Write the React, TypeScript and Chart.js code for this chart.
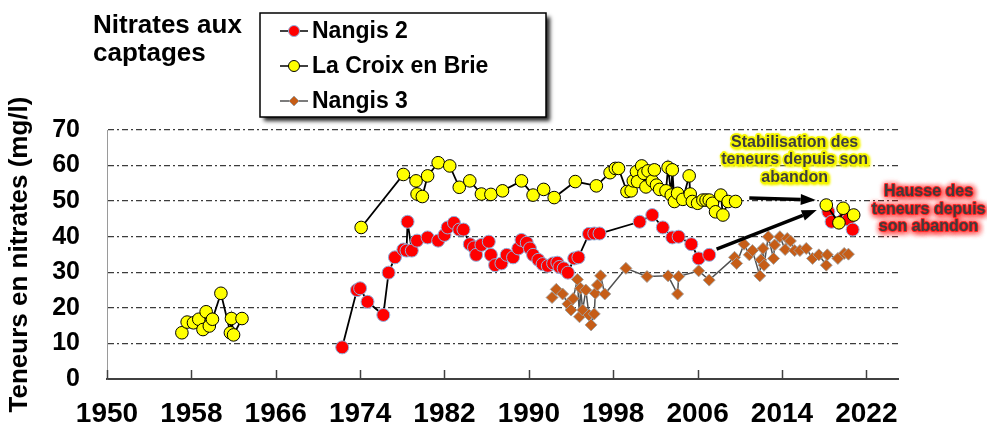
import React, { useEffect, useRef } from "react";
import { Chart, registerables } from "chart.js";

Chart.register(...registerables);

// ---------- DATA ----------
const xTickYears = [1950, 1958, 1966, 1974, 1982, 1990, 1998, 2006, 2014, 2022];
const xMin = 1950;
const xMax = 2025;
const yMin = 0;
const yMax = 70;
const yStep = 10;

const nangis2Years = [
  1972.3, 1973.7, 1974.0, 1974.7, 1976.2, 1976.7, 1977.3, 1978.1, 1978.4, 1978.5, 1978.9,
  1979.4, 1980.4, 1981.4, 1982.0, 1982.3, 1982.9, 1983.4, 1983.8, 1984.4, 1984.8, 1985.0,
  1985.5, 1986.2, 1986.4, 1986.8, 1987.4, 1987.9, 1988.5, 1989.0, 1989.3, 1989.8, 1990.1,
  1990.4, 1990.9, 1991.3, 1991.8, 1992.3, 1992.7, 1992.9, 1993.3, 1993.7, 1994.3, 1994.7,
  1995.7, 1996.2, 1996.7, 2000.5, 2001.7, 2002.7, 2003.6, 2004.2, 2005.4, 2006.1, 2007.1,
  2012.0,
  2018.4, 2018.7, 2019.9, 2020.3, 2020.7,
];
const nangis2Values = [
  8.9, 25.0, 25.5, 21.7, 18.0, 29.9, 34.2, 36.4, 36.1, 44.2, 36.1,
  38.9, 39.8, 38.9, 40.5, 42.6, 43.9, 42.0, 42.0, 37.9, 37.0, 34.9,
  37.7, 38.6, 34.9, 32.0, 32.5, 34.9, 34.2, 36.7, 39.1, 38.3, 36.7,
  34.9, 33.5, 32.3, 31.8, 32.5, 32.7, 31.5, 31.1, 29.9, 33.9, 34.2,
  40.8, 40.9, 40.9, 44.2, 46.1, 42.6, 39.8, 40.0, 37.9, 33.9, 34.9,
  null,
  47.0, 44.2, 45.1, 44.9, 42.0,
];

const croixYears = [
  1957.1, 1957.6, 1958.2, 1958.7, 1959.1, 1959.4, 1959.7, 1960.0, 1960.8, 1961.7, 1961.8,
  1962.0, 1962.8,
  1968.0,
  1974.1, 1978.1, 1979.3, 1979.4, 1979.9, 1980.4, 1981.4, 1982.5, 1983.4, 1984.4, 1985.5,
  1986.4, 1987.5, 1989.3, 1990.4, 1991.4, 1992.4, 1994.4, 1996.4, 1997.7, 1998.2, 1998.5,
  1999.3, 1999.7, 1999.9, 2000.2, 2000.3, 2000.7, 2000.9, 2001.1, 2001.3, 2001.7, 2001.9,
  2002.1, 2002.4, 2003.0, 2003.2, 2003.5, 2003.6, 2003.8, 2004.1, 2004.6, 2005.2, 2005.3,
  2005.5, 2006.0, 2006.5, 2006.8, 2007.1, 2007.4, 2007.7, 2008.2, 2008.4, 2008.9, 2009.6,
  2014.0,
  2018.2, 2019.4, 2019.8, 2020.8,
];
const croixValues = [
  13.0, 16.0, 15.8, 16.8, 13.9, 18.9, 14.9, 16.8, 24.1, 13.0, 17.0,
  12.4, 17.0,
  null,
  42.6, 57.5, 55.7, 52.0, 51.3, 57.1, 60.8, 59.9, 53.9, 55.7, 52.0,
  51.9, 52.9, 55.7, 51.7, 53.3, 51.0, 55.5, 54.3, 58.0, 59.2, 59.2,
  52.7, 52.9, 55.7, 58.3, 55.5, 59.9, 57.8, 54.0, 58.5, 55.7, 58.8,
  54.5, 53.3, 52.9, 59.5, 51.7, 58.8, 49.9, 52.2, 50.5, 57.1, 52.0,
  49.9, 49.4, 50.3, 50.3, 50.3, 49.4, 47.0, 51.7, 46.1, 49.9, 49.9,
  null,
  48.9, 43.9, 48.0, 46.1,
];

const nangis3Years = [
  1992.2, 1992.6, 1993.2, 1993.7, 1994.0, 1994.2, 1994.6, 1994.8, 1994.9, 1995.1, 1995.4,
  1995.7, 1995.9, 1996.2, 1996.3, 1996.5, 1996.8, 1997.2, 1999.2, 2001.2, 2003.2, 2004.1,
  2004.2, 2006.1, 2007.1, 2009.5, 2009.7, 2010.4, 2010.9, 2011.2, 2011.9, 2012.0, 2012.2,
  2012.3, 2012.7, 2013.2, 2013.3, 2013.8, 2014.3, 2014.5, 2014.8, 2015.2, 2015.7, 2016.3,
  2016.9, 2017.5, 2018.2, 2018.3, 2019.3, 2019.9, 2020.3,
];
const nangis3Values = [
  22.9, 25.2, 23.9, 21.1, 19.4, 22.6, 28.0, 17.5, 25.5, 19.4, 25.0,
  18.0, 15.2, 18.3, 24.1, 26.4, 29.0, 23.9, 31.1, 28.8, 29.0, 23.9,
  28.8, 30.4, 27.8, 34.2, 32.5, 37.9, 34.9, 36.1, 29.0, 33.5, 36.7,
  32.0, 40.0, 33.9, 37.7, 40.0, 36.4, 39.5, 38.8, 36.1, 36.1, 36.7,
  33.9, 34.9, 32.0, 34.9, 33.9, 35.3, 35.1,
];

const seriesNames = ["Nangis 2", "La Croix en Brie", "Nangis 3"];
const chartTitleLines = ["Nitrates aux", "captages"];
const yAxisTitle = "Teneurs en nitrates (mg/l)";
const stabLines = ["Stabilisation des", "teneurs depuis son", "abandon"];
const hausseLines = ["Hausse des", "teneurs depuis", "son abandon"];
// annotation anchors in data units (year, mg/l)
const stabAnchor = [2015.2, 66.6];
const hausseAnchor = [2027.9, 52.6];
const arrowStab = [2010.9, 50.9, 2017.2, 50.3];
const arrowHausse = [2007.8, 36.5, 2017.3, 47.5];

const toPoints = (xs: number[], ys: (number | null)[]) => xs.map((x, i) => ({ x, y: ys[i] }));

const FONT = '"Liberation Sans", Arial, Helvetica, sans-serif';

function drawArrow(ctx: CanvasRenderingContext2D, x1: number, y1: number, x2: number, y2: number) {
  const ang = Math.atan2(y2 - y1, x2 - x1);
  const head = 15;
  const hw = 5.5;
  const bx = x2 - head * Math.cos(ang);
  const by = y2 - head * Math.sin(ang);
  ctx.save();
  ctx.strokeStyle = "#000";
  ctx.fillStyle = "#000";
  ctx.lineWidth = 3.5;
  ctx.beginPath();
  ctx.moveTo(x1, y1);
  ctx.lineTo(bx, by);
  ctx.stroke();
  ctx.beginPath();
  ctx.moveTo(x2, y2);
  ctx.lineTo(bx + hw * Math.sin(ang), by - hw * Math.cos(ang));
  ctx.lineTo(bx - hw * Math.sin(ang), by + hw * Math.cos(ang));
  ctx.closePath();
  ctx.fill();
  ctx.restore();
}

function glowText(
  ctx: CanvasRenderingContext2D, lines: string[], cx: number, cy: number, lh: number,
  glow: string, blur: number, strokeW: number, passes: number
) {
  ctx.save();
  ctx.font = `bold 16px ${FONT}`;
  ctx.textAlign = "center";
  ctx.textBaseline = "middle";
  lines.forEach((l, i) => {
    const yy = cy + i * lh;
    ctx.save();
    ctx.shadowColor = glow;
    ctx.shadowBlur = blur;
    ctx.shadowOffsetX = 1;
    ctx.shadowOffsetY = 1;
    ctx.strokeStyle = glow;
    ctx.fillStyle = glow;
    ctx.lineWidth = strokeW;
    ctx.lineJoin = "round";
    for (let p = 0; p < passes; p++) {
      if (strokeW > 0) ctx.strokeText(l, cx, yy);
      ctx.fillText(l, cx, yy);
    }
    ctx.restore();
    ctx.fillStyle = "#3d3d3d";
    ctx.fillText(l, cx, yy);
  });
  ctx.restore();
}

const decorPlugin = {
  id: "decor",
  afterDraw(chart: any) {
    const { ctx, chartArea } = chart;
    const xs = chart.scales.x;
    const ys = chart.scales.y;

    // inward tick marks on the x axis
    ctx.save();
    ctx.strokeStyle = "#404040";
    ctx.lineWidth = 1.5;
    xs.ticks.forEach((t: any) => {
      const px = Math.round(xs.getPixelForValue(t.value)) + 0.5;
      ctx.beginPath();
      ctx.moveTo(px, chartArea.bottom);
      ctx.lineTo(px, chartArea.bottom - 9);
      ctx.stroke();
    });
    ctx.restore();

    // title
    ctx.save();
    ctx.font = `bold 26px ${FONT}`;
    ctx.fillStyle = "#000";
    ctx.textAlign = "left";
    ctx.textBaseline = "alphabetic";
    ctx.fillText(chartTitleLines[0], 93, 33);
    ctx.fillText(chartTitleLines[1], 93, 61);
    ctx.restore();

    // legend box
    const lx = 260, ly = 13, lw = 286, lh = 104;
    ctx.save();
    ctx.shadowColor = "rgba(0,0,0,0.85)";
    ctx.shadowBlur = 4;
    ctx.shadowOffsetX = 4;
    ctx.shadowOffsetY = 4;
    ctx.fillStyle = "#fff";
    ctx.fillRect(lx, ly, lw, lh);
    ctx.restore();
    ctx.save();
    ctx.strokeStyle = "#000";
    ctx.lineWidth = 1.5;
    ctx.strokeRect(lx, ly, lw, lh);
    const rows = [31, 66, 101];
    chart.data.datasets.forEach((ds: any) => {
      const idx = seriesNames.indexOf(ds.label);
      const yy = rows[idx];
      ctx.strokeStyle = ds.borderColor;
      ctx.lineWidth = 1.5;
      ctx.beginPath();
      ctx.moveTo(280, yy);
      ctx.lineTo(308, yy);
      ctx.stroke();
      ctx.fillStyle = ds.pointBackgroundColor;
      ctx.strokeStyle = ds.pointBorderColor;
      ctx.lineWidth = 1;
      ctx.beginPath();
      if (ds.pointStyle === "rectRot") {
        const r = 5;
        ctx.moveTo(294, yy - r);
        ctx.lineTo(294 + r, yy);
        ctx.lineTo(294, yy + r);
        ctx.lineTo(294 - r, yy);
        ctx.closePath();
      } else {
        ctx.arc(294, yy, 5.5, 0, Math.PI * 2);
      }
      ctx.fill();
      ctx.stroke();
      ctx.fillStyle = "#000";
      ctx.font = `bold 23px ${FONT}`;
      ctx.textAlign = "left";
      ctx.textBaseline = "middle";
      ctx.fillText(ds.label, 312, yy + 1);
    });
    ctx.restore();

    // arrows
    drawArrow(ctx, xs.getPixelForValue(arrowStab[0]), ys.getPixelForValue(arrowStab[1]),
      xs.getPixelForValue(arrowStab[2]), ys.getPixelForValue(arrowStab[3]));
    drawArrow(ctx, xs.getPixelForValue(arrowHausse[0]), ys.getPixelForValue(arrowHausse[1]),
      xs.getPixelForValue(arrowHausse[2]), ys.getPixelForValue(arrowHausse[3]));

    // annotations
    glowText(ctx, stabLines, xs.getPixelForValue(stabAnchor[0]), ys.getPixelForValue(stabAnchor[1]), 17.5, "#f5f500", 3, 3, 2);
    glowText(ctx, hausseLines, xs.getPixelForValue(hausseAnchor[0]), ys.getPixelForValue(hausseAnchor[1]), 17.5, "rgba(255,30,30,0.85)", 6, 1.5, 2);
  },
};

export default function App() {
  const ref = useRef<HTMLCanvasElement | null>(null);

  useEffect(() => {
    document.body.style.margin = "0";
    const canvas = ref.current;
    if (!canvas) return;
    Chart.defaults.font.family = FONT;
    const chart = new Chart(canvas, {
      type: "line",
      data: {
        datasets: [
          {
            label: seriesNames[1],
            data: toPoints(croixYears, croixValues),
            borderColor: "#000",
            borderWidth: 1.8,
            pointStyle: "circle",
            pointRadius: 6.3,
            pointBackgroundColor: "#ffff00",
            pointBorderColor: "#000",
            pointBorderWidth: 1,
            spanGaps: false,
            order: 0,
          },
          {
            label: seriesNames[0],
            data: toPoints(nangis2Years, nangis2Values),
            borderColor: "#000",
            borderWidth: 1.8,
            pointStyle: "circle",
            pointRadius: 6.5,
            pointBackgroundColor: "#ff0000",
            pointBorderColor: "#8fb2de",
            pointBorderWidth: 1,
            spanGaps: false,
            order: 1,
          },
          {
            label: seriesNames[2],
            data: toPoints(nangis3Years, nangis3Values),
            borderColor: "#505050",
            borderWidth: 1.5,
            pointStyle: "rectRot",
            pointRadius: 6,
            pointBackgroundColor: "#c65d17",
            pointBorderColor: "rgba(160,160,160,0.9)",
            pointBorderWidth: 1,
            spanGaps: false,
            order: 2,
          },
        ],
      },
      options: {
        responsive: false,
        animation: false,
        devicePixelRatio: 1,
        layout: { padding: { top: 130, right: 89, left: 0, bottom: 0 } },
        plugins: {
          legend: { display: false },
          tooltip: { enabled: false },
          title: { display: false },
        },
        elements: { line: { tension: 0 } },
        scales: {
          x: {
            type: "linear",
            min: xMin,
            max: xMax,
            afterBuildTicks: (s: any) => {
              s.ticks = xTickYears.map((v) => ({ value: v }));
            },
            afterFit: (s: any) => {
              s.height = 46;
            },
            grid: { display: true, drawOnChartArea: false, drawTicks: false },
            border: { display: true, color: "#404040", width: 2 },
            ticks: {
              autoSkip: false,
              maxRotation: 0,
              padding: 18,
              color: "#000",
              font: { size: 28, weight: "bold" },
              callback: (v: any) => String(v),
            },
          },
          y: {
            min: yMin,
            max: yMax,
            afterFit: (s: any) => {
              s.width = 107;
            },
            ticks: {
              stepSize: yStep,
              padding: 27,
              color: "#000",
              font: { size: 25, weight: "bold" },
            },
            grid: {
              drawTicks: false,
              lineWidth: 1.3,
              color: (c: any) => (c.tick && c.tick.value === 0 ? "rgba(0,0,0,0)" : "#3c3c3c"),
            },
            border: { display: true, color: "#9a9a9a", width: 1, dash: [6, 3, 2, 3] },
            title: {
              display: true,
              text: yAxisTitle,
              color: "#000",
              font: { size: 26, weight: "bold" },
              padding: { top: 4, bottom: 0 },
            },
          },
        },
      },
      plugins: [decorPlugin],
    } as any);
    return () => chart.destroy();
  }, []);

  return (
    <div style={{ width: 987, height: 425, position: "relative" }}>
      <canvas ref={ref} width={987} height={425} style={{ display: "block" }} />
    </div>
  );
}
